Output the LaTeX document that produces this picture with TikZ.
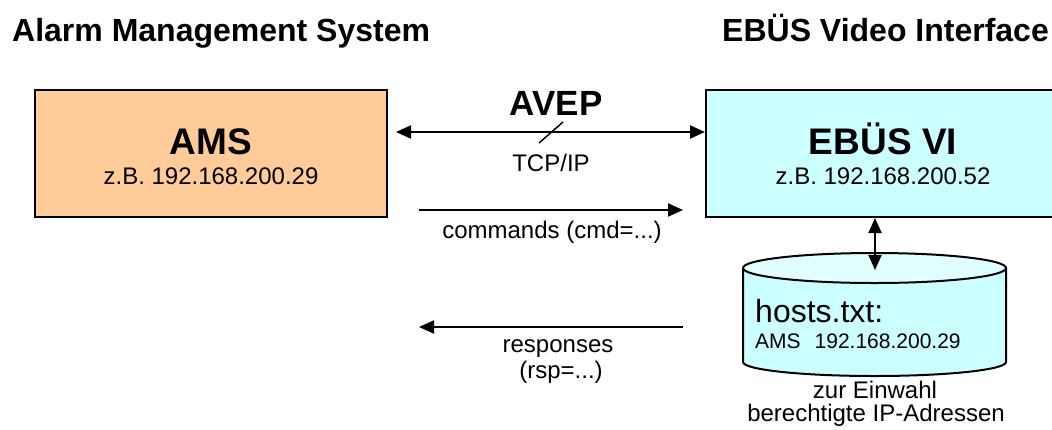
\documentclass[tikz,border=0pt]{standalone}
\usepackage{fontspec}
\setmainfont{Liberation Sans}
\usetikzlibrary{arrows.meta}
\definecolor{amsfill}{HTML}{FFCC99}
\definecolor{vifill}{HTML}{CCFFFF}
\definecolor{dbtopfill}{HTML}{E0FFFF}
\newcommand\setfs[1]{\fontsize{#1}{#1}\selectfont}
\begin{document}
\begin{tikzpicture}[x=1pt,y=-1pt,
  txt/.style={inner sep=0pt, anchor=base},
  txtl/.style={inner sep=0pt, anchor=base west},
  heading/.style={txtl, font=\bfseries\setfs{32}},
  bignm/.style={txt, font=\bfseries\setfs{37}},
  small/.style={txt, font=\setfs{24}},
  box/.style={draw, line width=2pt, inner sep=0pt, minimum height=127pt},
  arr/.style={line width=2pt, -{Triangle[length=15pt,width=13pt]}},
  darr/.style={line width=2pt, {Triangle[length=15pt,width=13pt]}-{Triangle[length=15pt,width=13pt]}}
]
\clip (0,0) rectangle (1052,429);
\fill[white] (0,0) rectangle (1052,429);

% titles
\node[heading] (t1) at (12,41) {Alarm Management System};
\node[heading] (t2) at (722,41) {EBÜS Video Interface};

% boxes
\node[box, fill=amsfill, minimum width=352pt] (ams) at (211,153.5) {};
\node[box, fill=vifill, minimum width=356pt] (vi) at (884,153.5) {};
\node[bignm] (amsname) at (211,154) {AMS};
\node[small] (amsip) at (211,184) {z.B. 192.168.200.29};
\node[bignm] (viname) at (883,154) {EBÜS VI};
\node[small] (viip) at (883,184) {z.B. 192.168.200.52};

% AVEP link
\coordinate (avepL) at (396,132);
\draw[darr] (avepL) -- (vi.west |- avepL);
\node[txt, font=\bfseries\setfs{35}] (avep) at (556,115) {AVEP};
\coordinate (slA) at (539,143);
\coordinate (slB) at (563,122);
\draw[line width=1.5pt] (slA) -- (slB);
\node[small] (tcp) at (551,171) {TCP/IP};

% commands
\coordinate (cmdL) at (419,210);
\coordinate (cmdR) at (683,210);
\draw[arr] (cmdL) -- (cmdR);
\node[small] (cmd) at (552,238) {commands (cmd=...)};

% responses
\coordinate (rspR) at (683,327);
\coordinate (rspL) at (419,327);
\draw[arr] (rspR) -- (rspL);
\node[small] (rsp1) at (558,352) {responses};
\node[small] (rsp2) at (561,378) {(rsp=...)};

% database cylinder
\fill[vifill] (743,268) -- (743,362) arc[start angle=180, end angle=0, x radius=131.5, y radius=14]
  -- (1006,268) arc[start angle=0, end angle=-180, x radius=131.5, y radius=15] -- cycle;
\draw[line width=2pt] (743,268) -- (743,362) arc[start angle=180, end angle=0, x radius=131.5, y radius=14] -- (1006,268);
\draw[line width=2pt, fill=dbtopfill] (874.5,268) ellipse[x radius=131.5, y radius=15];
\coordinate (dbtop) at (875,270);
\draw[darr] (vi.south -| dbtop) -- (dbtop);
\node[txtl, font=\setfs{32}] (hosts) at (755,322) {hosts.txt:};
\node[txtl, font=\setfs{21}] (hostline) at (755,348) {AMS\hspace{14pt}192.168.200.29};
\node[small] (ein1) at (875,398) {zur Einwahl};
\node[small] (ein2) at (876,421) {berechtigte IP-Adressen};
\end{tikzpicture}
\end{document}
